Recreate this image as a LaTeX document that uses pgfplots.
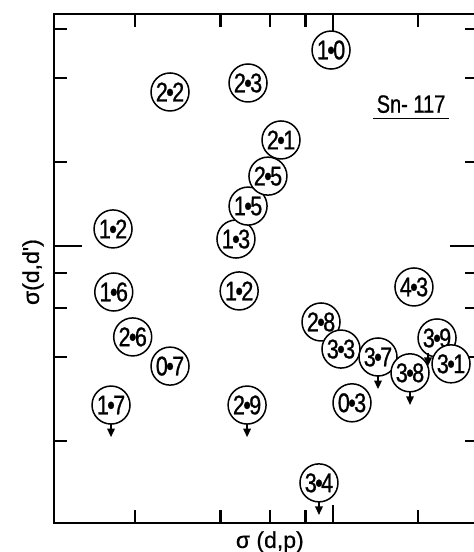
\documentclass[border=0pt]{standalone}
\usepackage{fontspec}
\setmainfont{Liberation Sans}
\newfontfamily\lbl[FakeStretch=0.8, FakeBold=0.8]{Liberation Sans}
\newfontfamily\axl[FakeBold=0.6]{Liberation Sans}
\usepackage{pgfplots}
\usepackage{pgfplotstable}
\pgfplotsset{compat=1.18}
\newcommand\dt{\kern-0.06em\textbullet\kern-0.06em}
\pgfdeclareplotmark{darrow}{%
  \pgfsetlinewidth{0.9pt}%
  \pgfpathmoveto{\pgfpoint{0pt}{-9.4pt}}\pgfpathlineto{\pgfpoint{0pt}{-12pt}}\pgfusepathqstroke
  \pgfpathmoveto{\pgfpoint{-2pt}{-11.8pt}}\pgfpathlineto{\pgfpoint{2pt}{-11.8pt}}\pgfpathlineto{\pgfpoint{0pt}{-16pt}}\pgfpathclose\pgfusepathqfill}

\pgfplotstableread{
x y label
0.984 5.04 1\dt0
0.2655 3.565 2\dt2
0.5008 3.84 2\dt3
0.655 2.399 2\dt1
0.454 1.059 1\dt3
0.501 1.39 1\dt5
0.589 1.78 2\dt5
0.167 1.151 1\dt2
0.168 0.684 1\dt6
0.466 0.690 1\dt2
1.932 0.713 4\dt3
0.196 0.472 2\dt6
0.2655 0.371 0\dt7
0.907 0.534 2\dt8
1.067 0.427 3\dt3
1.442 0.400 3\dt7
1.871 0.351 3\dt8
2.331 0.468 3\dt9
2.612 0.378 3\dt1
0.1643 0.269 1\dt7
0.497 0.269 2\dt9
1.167 0.274 0\dt3
0.892 0.1415 3\dt4
}\points

\pgfplotstableread{
x y
1.442 0.400
1.871 0.351
0.1643 0.269
0.497 0.269
0.892 0.1415
2.166 0.484
}\arrows

\begin{document}
\begin{tikzpicture}
\begin{axis}[
  xmode=log, ymode=log,
  scale only axis, width=212pt, height=254.5pt,
  xmin=0.1033, xmax=3.253, ymin=0.1016, ymax=6.785,
  xtick={0.2,0.4,0.6,0.8,2}, ytick={0.2,0.4,0.6,0.8,2,4,6},
  minor xtick={}, minor ytick={},
  xticklabels={}, yticklabels={},
  extra x ticks={1}, extra y ticks={1},
  extra x tick labels={}, extra y tick labels={},
  extra x tick style={major tick length=9pt},
  extra y tick style={major tick length=14pt},
  major tick length=6.5pt,
  tick align=inside,
  every tick/.style={black, line width=1.2pt},
  axis line style={line width=1pt},
  clip=false,
  xlabel={σ (d,p)}, ylabel={σ(d,d')},
  xlabel style={at={(axis description cs:0.509,-0.0373)}, anchor=center, font=\axl\fontsize{11.5}{13}\selectfont},
  ylabel style={at={(axis description cs:-0.0495,0.493)}, anchor=center, font=\axl\fontsize{11.5}{13}\selectfont},
]
\addplot[only marks, mark=*, mark size=9.5pt,
  mark options={fill=white, draw=black, line width=0.75pt},
  point meta=explicit symbolic,
  nodes near coords, nodes near coords align=center,
  every node near coord/.append style={anchor=center, inner sep=0pt, font=\lbl\fontsize{13.5}{15}\selectfont}]
  table[x=x, y=y, meta=label] {\points};
\addplot[only marks, mark=darrow] table[x=x, y=y] {\arrows};
\node[inner sep=0pt, font=\lbl\fontsize{12.5}{14}\selectfont] (sn) at (rel axis cs:0.842,0.823) {Sn- 117};
\draw[line width=0.9pt] ([yshift=-2.6pt,xshift=-1.5pt]sn.south west) -- ([yshift=-2.6pt,xshift=1.5pt]sn.south east);
\end{axis}
\pgfresetboundingbox
\path[use as bounding box] (-27pt,-14.5pt) rectangle (210pt,261.5pt);
\end{tikzpicture}
\end{document}
